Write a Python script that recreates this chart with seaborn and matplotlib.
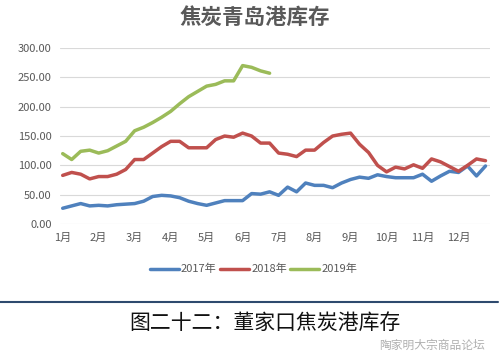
import pandas as pd
import matplotlib
matplotlib.use("Agg")
import matplotlib.pyplot as plt
import seaborn as sns

sns.set_theme(style="white")
plt.rcParams['font.family'] = ['Noto Sans CJK SC', 'DejaVu Sans']

# weekly port stocks
stock_2017 = [27, 31, 35, 31, 32, 31, 33, 34, 35, 39, 47, 49, 48, 45, 39, 35,
              32, 36, 40, 40, 40, 52, 51, 55, 49, 63, 55, 70, 66, 66, 62, 70,
              76, 80, 78, 84, 81, 79, 79, 79, 85, 73, 82, 90, 88, 99, 82, 99]
stock_2018 = [83, 88, 85, 77, 81, 81, 85, 93, 110, 110, 121, 132, 141, 141, 130, 130,
              130, 144, 150, 148, 155, 150, 138, 138, 121, 119, 115, 126, 126, 139, 150, 153,
              155, 136, 122, 100, 89, 97, 94, 101, 95, 111, 106, 98, 90, 100, 111, 108]
stock_2019 = [120, 110, 124, 126, 121, 125, 133, 141, 159, 165, 173, 182, 192, 205, 217, 226,
              235, 238, 244, 244, 270, 267, 261, 257]
months = ["1月", "2月", "3月", "4月", "5月", "6月", "7月", "8月", "9月", "10月", "11月", "12月"]
years = ["2017年", "2018年", "2019年"]

rows = []
for yr, vals in zip(years, [stock_2017, stock_2018, stock_2019]):
    for i, v in enumerate(vals):
        rows.append({"week": i, "stock": v, "year": yr})
df = pd.DataFrame(rows)

fig = plt.figure(figsize=(5, 3.58), dpi=100)
ax = fig.add_axes([0.12, 0.374, 0.86, 0.492])

sns.lineplot(data=df, x="week", y="stock", hue="year", ax=ax,
             palette=["#4F81BD", "#C0504D", "#9BBB59"], linewidth=2.5)

ax.set_ylim(0, 300)
ax.set_xlim(-0.3, 47.5)
ax.set_yticks(range(0, 301, 50))
ax.set_yticklabels([f"{v:.2f}" for v in range(0, 301, 50)], fontsize=8, color="#595959")
ax.set_xticks(range(0, 48, 4))
ax.set_xticklabels(months, fontsize=8, color="#595959")
ax.tick_params(axis="both", length=0, pad=6)
ax.yaxis.grid(True, color="#d9d9d9", linewidth=0.8)
ax.xaxis.grid(False)
for s in ax.spines.values():
    s.set_visible(False)
ax.set_xlabel("")
ax.set_ylabel("")

leg = ax.legend(loc="upper center", bbox_to_anchor=(0.45, -0.17), ncol=3, frameon=False,
                fontsize=8, handlelength=2.6, columnspacing=0.3, handletextpad=0.2)
for t in leg.get_texts():
    t.set_color("#595959")

fig.text(0.51, 0.95, "焦炭青岛港库存", ha="center", va="center", fontsize=15.5,
         fontweight="bold", color="#595959")

# separator line and caption
fig.add_artist(plt.Line2D([0.0, 0.995], [0.157, 0.157], color="#2E4A6E", linewidth=1.5))
fig.text(0.53, 0.098, "图二十二：董家口焦炭港库存", ha="center", va="center",
         fontsize=15, color="#111111")
fig.text(0.865, 0.035, "陶家明大宗商品论坛", ha="center", va="center",
         fontsize=8.5, color="#b0b0b0")

fig.savefig("out.png", dpi=100, facecolor="white")
